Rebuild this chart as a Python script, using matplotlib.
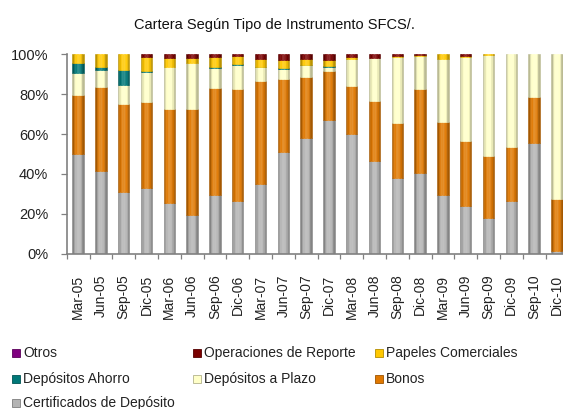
import numpy as np
import matplotlib
matplotlib.use('Agg')
import matplotlib.pyplot as plt
from matplotlib.patches import Rectangle
from matplotlib.colors import to_rgb

plt.rcParams['font.family'] = ['Liberation Sans', 'DejaVu Sans']

periods = ['Mar-05', 'Jun-05', 'Sep-05', 'Dic-05', 'Mar-06', 'Jun-06', 'Sep-06', 'Dic-06',
           'Mar-07', 'Jun-07', 'Sep-07', 'Dic-07', 'Mar-08', 'Jun-08', 'Sep-08', 'Dic-08',
           'Mar-09', 'Jun-09', 'Sep-09', 'Dic-09', 'Sep-10', 'Dic-10']

# shares in % (bottom to top of each bar)
certificados = [50.0, 41.5, 30.9, 33.1, 25.4, 19.4, 29.4, 26.4, 35.0, 51.0, 58.0,
                66.9, 59.9, 46.3, 38.0, 40.5, 29.4, 24.1, 18.1, 26.4, 55.4, 1.3]
bonos = [29.8, 42.3, 44.4, 42.8, 47.3, 53.3, 53.9, 56.4, 51.8, 36.8, 30.8,
         24.7, 24.4, 30.5, 27.4, 42.3, 36.5, 32.3, 30.7, 26.9, 23.4, 26.1]
dep_plazo = [11.0, 8.5, 9.5, 15.4, 21.1, 23.1, 10.0, 11.8, 6.7, 5.0, 5.7,
             2.2, 13.4, 21.5, 33.4, 16.2, 31.9, 42.3, 50.7, 46.7, 21.2, 72.6]
dep_ahorro = [5.0, 1.3, 7.5, 0.5, 0.0, 0.0, 0.5, 0.6, 0.3, 0.3, 0.3,
              0.5, 0.0, 0.0, 0.0, 0.0, 0.0, 0.0, 0.0, 0.0, 0.0, 0.0]
papeles = [4.2, 6.4, 7.7, 7.0, 4.5, 2.5, 5.0, 4.1, 4.0, 4.2, 3.0,
           3.0, 1.1, 0.0, 0.5, 0.5, 2.2, 0.6, 0.5, 0.0, 0.0, 0.0]
reporte = [0.0, 0.0, 0.0, 1.2, 1.7, 1.7, 1.2, 0.7, 2.2, 2.7, 2.2,
           2.7, 1.2, 1.7, 0.7, 0.5, 0.0, 0.7, 0.0, 0.0, 0.0, 0.0]
otros = [0.0] * 22

series = [
    ('Certificados de Depósito', certificados, '#b4b4b4'),
    ('Bonos', bonos, '#e07800'),
    ('Depósitos a Plazo', dep_plazo, '#ffffc8'),
    ('Depósitos Ahorro', dep_ahorro, '#007878'),
    ('Papeles Comerciales', papeles, '#ffc800'),
    ('Operaciones de Reporte', reporte, '#7a0000'),
    ('Otros', otros, '#800080'),
]

BAR_W = 0.5
N_STRIPES = 8


def shade(color, n=N_STRIPES):
    # cylinder-like horizontal gradient: dark edges, light centre
    base = np.array(to_rgb(color))
    t = (np.arange(n) + 0.5) / n
    f = 0.6 + 0.5 * np.sin(np.pi * t) ** 0.8
    cols = []
    for v in f:
        if v < 1:
            cols.append(base * v)
        else:
            cols.append(base + (1 - base) * (v - 1) * 1.5)
    return np.clip(np.array(cols), 0, 1)


fig = plt.figure(figsize=(5.63, 4.09), dpi=100)
ax = fig.add_axes([66.7 / 563, 1 - 253.7 / 409, 501.6 / 563, 199.4 / 409])

x = np.arange(len(periods))
totals = np.sum([s[1] for s in series], axis=0)
bottom = np.zeros(len(periods))
sw = BAR_W / N_STRIPES
for name, vals, color in series:
    pct = np.array(vals) / totals * 100
    grad = shade(color)
    lw = np.where(pct > 0, 0.4, 0.0)
    for k in range(N_STRIPES):
        off = -BAR_W / 2 + (k + 0.5) * sw
        ax.bar(x + off, pct, width=sw, bottom=bottom, color=grad[k],
               edgecolor=grad[k], linewidth=lw, zorder=2)
    bottom += pct

ax.set_xlim(-0.5, len(periods) - 0.5)
ax.set_ylim(0, 100)

ax.set_yticks(np.arange(0, 101, 20))
ax.set_yticklabels([f'{v}%' for v in range(0, 101, 20)], fontsize=10.5, color='#222222')
ax.tick_params(axis='y', length=4.3, width=0.9, color='#808080', pad=9)

ax.set_xticks(np.arange(-0.5, len(periods), 1))
ax.set_xticklabels([])
ax.tick_params(axis='x', which='major', length=3.6, width=0.9, color='#808080')
ax.set_xticks(x, minor=True)
ax.set_xticklabels(periods, minor=True, rotation=90, fontsize=10, color='#222222')
ax.tick_params(axis='x', which='minor', length=0, pad=15)

for side in ['top', 'right']:
    ax.spines[side].set_visible(False)
for side in ['left', 'bottom']:
    ax.spines[side].set_color('#808080')
    ax.spines[side].set_linewidth(1.2)

fig.text(274 / 563, 1 - 25 / 409, 'Cartera Según Tipo de Instrumento SFCS/.',
         ha='center', va='center', fontsize=10.5, color='#111111')

# legend laid out like the original: three fixed columns
legend_order = ['Otros', 'Operaciones de Reporte', 'Papeles Comerciales',
                'Depósitos Ahorro', 'Depósitos a Plazo', 'Bonos',
                'Certificados de Depósito']
colors = {name: color for name, _, color in series}
col_x = [12, 193, 375]
row_y = [353, 379, 403]
for i, name in enumerate(legend_order):
    px = col_x[i % 3]
    py = row_y[i // 3]
    c = np.array(to_rgb(colors[name]))
    fig.patches.append(Rectangle((px / 563, (409 - py - 4) / 409), 8 / 563, 8 / 409,
                                 transform=fig.transFigure, facecolor=c,
                                 edgecolor=c * 0.7, linewidth=0.6))
    fig.text((px + 11) / 563, (409 - py) / 409, name, ha='left', va='center',
             fontsize=10, color='#222222')

fig.savefig('out.png', dpi=100)
